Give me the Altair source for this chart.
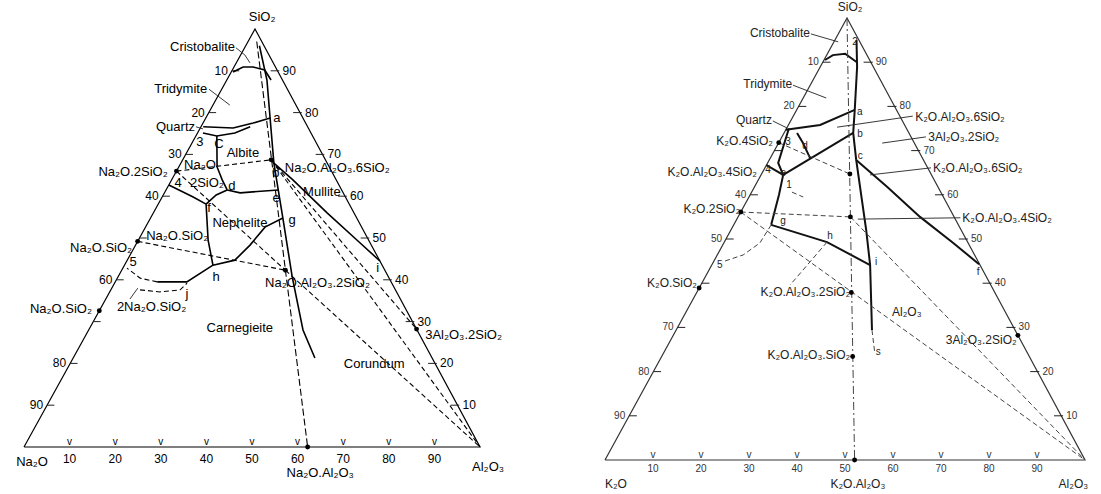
import altair as alt
import pandas as pd

# ---------------------------------------------------------------------------
# DATA  (all positions are compositions in wt%: (SiO2, Al2O3); alkali = rest)
# ---------------------------------------------------------------------------
TICKS = [10, 20, 30, 40, 50, 60, 70, 80, 90]
TRIANGLE = [(0, 0), (0, 100), (100, 0), (0, 0)]

# ---- Na2O - Al2O3 - SiO2 ----
NA_DOT_SIO2 = [66.0, 49.2, 32.6, 68.7, 42.3, 0.0, 28.2]
NA_DOT_AL2O3 = [0.0, 0.0, 0.0, 19.4, 35.9, 62.2, 71.8]
NA_LEFT_LABELS = [10, 20, 30, 40, 60, 80, 90]
NA_RIGHT_LABELS = [90, 80, 70, 60, 50, 40, 30, 20, 10]
NA_BOTTOM_LABELS = [10, 20, 30, 40, 50, 60, 70, 80, 90]

NA_BOUNDARIES = {
    "cristobalite": [(89.7, 0.4), (90.9, 2.0), (90.9, 4.2), (90.2, 7.1), (87.8, 9.7)],
    "main": [(96.0, 3.0), (87.8, 8.8), (78.7, 14.1), (67.9, 20.4), (61.5, 24.6),
             (54.8, 29.0), (40.7, 38.2), (28.0, 47.0), (21.3, 53.0)],
    "quartz_upper": [(76.6, 0.5), (76.3, 7.2), (77.5, 11.0), (78.7, 14.1)],
    "quartz_lower": [(75.1, 1.2), (74.4, 4.6), (75.1, 8.2), (76.6, 10.8)],
    "c_d": [(74.4, 4.6), (67.0, 8.4), (63.9, 11.1), (61.5, 13.4)],
    "d_e": [(61.5, 13.4), (60.8, 16.6), (61.5, 24.6)],
    "4_f": [(62.7, 0.0), (59.8, 6.8), (58.1, 10.5)],
    "f_d": [(58.1, 10.5), (60.3, 11.6), (61.5, 13.4)],
    "f_h": [(58.1, 10.5), (49.5, 15.3), (43.5, 19.4)],
    "h_g": [(43.5, 19.4), (44.7, 23.6), (48.3, 25.1), (52.6, 26.2), (54.8, 29.0)],
    "h_5": [(43.5, 19.4), (39.5, 15.7), (39.5, 9.2)],
    "mullite": [(67.9, 20.4), (63.9, 26.6), (56.0, 38.1), (48.8, 49.0), (44.5, 55.5)],
}
NA_TIELINES = {
    "h_5_dash": [(39.5, 9.2), (40.4, 5.0), (42.8, 0.9)],
    "j": [(37.6, 6.4), (37.1, 11.0), (37.6, 15.2), (39.2, 15.9)],
    "ns2_ab": [(66.0, 0.0), (68.7, 19.4)],
    "ns2_ne": [(66.0, 0.0), (42.3, 35.9)],
    "ns_ne": [(49.2, 0.0), (42.3, 35.9)],
    "ne_a": [(42.3, 35.9), (0.0, 100.0)],
    "ab_a": [(68.7, 19.4), (0.0, 100.0)],
    "ab_mu": [(68.7, 19.4), (28.2, 71.8)],
}
NA_JOIN = [(97.0, 1.9), (0.0, 62.2)]
NA_LEADERS = {
    "cristobalite": [(95.5, -1.9), (93.8, 0.9), (91.9, 3.0)],
    "tridymite": [(85.6, -2.8), (81.8, 3.7)],
    "quartz": [(76.6, -1.1), (76.1, 0.7)],
    "n2s": [(35.4, 5.3), (38.0, 5.7)],
}
NA_TEXT = [
    ("SiO₂", 102.9, 0.1, "center"), ("Cristobalite", 95.7, -2.2, "right"),
    ("Tridymite", 85.6, -3.2, "right"), ("Quartz", 76.6, -1.3, "right"),
    ("3", 73.0, 1.6, "center"), ("C", 72.5, 6.0, "center"), ("Albite", 70.3, 12.4, "center"),
    ("Na₂O.2SiO₂", 65.8, -1.8, "right"), ("Na₂O", 67.5, 4.4, "center"),
    ("2SiO₂", 63.2, 8.1, "center"), ("4", 63.2, 1.8, "center"), ("d", 62.4, 14.0, "center"),
    ("a", 78.7, 15.6, "center"), ("b", 65.6, 22.0, "center"), ("e", 59.6, 25.1, "center"),
    ("g", 54.3, 31.3, "center"), ("f", 57.2, 11.6, "center"), ("h", 40.7, 21.5, "center"),
    ("i", 42.8, 55.9, "center"), ("j", 36.6, 17.2, "center"), ("5", 44.3, 1.5, "center"),
    ("Na₂O.Al₂O₃.6SiO₂", 66.7, 23.4, "left"), ("Mullite", 61.0, 30.3, "left"),
    ("Nephelite", 53.6, 20.2, "center"), ("Na₂O.SiO₂", 47.6, -0.4, "right"),
    ("Na₂O.SiO₂", 50.5, 1.2, "left"), ("Na₂O.SiO₂", 33.0, -1.8, "right"),
    ("2Na₂O.SiO₂", 33.5, 3.4, "left"), ("Carnegieite", 28.5, 32.9, "center"),
    ("Na₂O.Al₂O₃.2SiO₂", 39.2, 33.0, "left"), ("3Al₂O₃.2SiO₂", 26.8, 74.4, "left"),
    ("Corundum", 19.9, 66.7, "center"), ("Na₂O", -3.6, 3.6, "center"),
    ("Na₂O.Al₂O₃", -6.2, 68.1, "center"), ("Al₂O₃", -4.8, 104.2, "center"),
]

# ---- K2O - Al2O3 - SiO2 ----
K_DOT_SIO2 = [71.8, 56.1, 38.9, 64.7, 55.0, 37.9, 23.4, 0.0, 28.2]
K_DOT_AL2O3 = [0.0, 0.0, 0.0, 18.4, 23.4, 32.2, 39.8, 52.0, 71.8]
K_LEFT_LABELS = [10, 20, 40, 50, 70, 80, 90]
K_RIGHT_LABELS = [90, 80, 70, 60, 50, 40, 30, 20, 10]
K_BOTTOM_LABELS = [10, 20, 30, 40, 50, 60, 70, 80, 90]

K_BOUNDARIES = {
    "cristobalite": [(90.5, 0.2), (91.6, 1.3), (91.9, 3.7), (90.0, 7.1)],
    "main": [(95.0, 4.5), (88.9, 7.7), (79.2, 12.1), (74.0, 14.4), (67.9, 18.1),
             (52.0, 28.2), (44.1, 33.0), (29.4, 40.8)],
    "c_f": [(67.9, 18.1), (61.8, 27.6), (55.0, 37.9), (49.1, 47.8), (44.3, 55.6)],
    "quartz": [(74.7, 0.0), (75.8, 6.6), (79.2, 12.1)],
    "e_b": [(64.5, 4.6), (74.0, 14.4)],
    "3_e": [(75.0, 0.5), (67.2, 2.2), (64.5, 4.6)],
    "d": [(74.0, 2.7), (71.7, 5.1), (68.3, 8.3)],
    "4_e": [(66.7, 0.0), (64.5, 4.6)],
    "e_g": [(64.5, 4.6), (60.0, 6.0), (53.2, 7.8)],
    "g_h_i": [(53.2, 7.8), (49.3, 21.4), (44.1, 33.0)],
}
K_TIELINES = {
    "main_tail": [(29.4, 40.8), (24.2, 44.0)],
    "g_5": [(53.2, 7.8), (49.1, 7.5), (46.4, 5.4), (44.8, 1.8)],
    "h_down": [(49.3, 21.4), (39.6, 18.6)],
    "k4s_or": [(71.8, 0.0), (64.7, 18.4)],
    "k2s_lc": [(56.1, 0.0), (55.0, 23.4)],
    "k2s_a": [(56.1, 0.0), (0.0, 100.0)],
    "lc_a": [(55.0, 23.4), (0.0, 100.0)],
    "arrow1": [(60.6, 8.4), (59.5, 11.3)],
}
K_JOIN = [(100.0, 0.0), (0.0, 52.0)]
K_LEADERS = {
    "cristobalite": [(96.4, -5.7), (94.6, 0.9)],
    "tridymite": [(84.8, -3.6), (81.9, 4.8)],
    "quartz": [(76.7, -3.7), (75.1, 0.1)],
    "or_top": [(77.8, 24.9), (75.3, 10.4)],
    "mu_top": [(73.1, 30.0), (71.7, 21.6)],
    "or_2": [(66.1, 34.6), (64.5, 22.7)],
    "lc": [(54.8, 46.4), (54.5, 25.2)],
}
K_TEXT = [
    ("SiO₂", 102.5, -0.6, "center"), ("Cristobalite", 96.6, -6.0, "right"),
    ("Tridymite", 85.1, -3.9, "right"), ("Quartz", 76.9, -4.0, "right"),
    ("K₂O.4SiO₂", 72.2, -1.4, "right"), ("K₂O.Al₂O₃.4SiO₂", 65.2, -1.2, "right"),
    ("K₂O.2SiO₂", 56.8, -0.5, "right"), ("K₂O.SiO₂", 40.0, -1.0, "right"),
    ("K₂O.Al₂O₃.2SiO₂", 38.0, 31.9, "right"), ("K₂O.Al₂O₃.SiO₂", 23.8, 39.1, "right"),
    ("K₂O.Al₂O₃.6SiO₂", 77.6, 25.5, "left"), ("3Al₂O₃.2SiO₂", 73.1, 30.5, "left"),
    ("K₂O.Al₂O₃.6SiO₂", 66.1, 35.0, "left"), ("K₂O.Al₂O₃.4SiO₂", 54.8, 46.8, "left"),
    ("Al₂O₃", 33.5, 42.9, "left"), ("3Al₂O₃.2SiO₂", 27.1, 72.1, "right"),
    ("K₂O", -5.4, 5.0, "center"), ("K₂O.Al₂O₃", -5.4, 55.4, "center"),
    ("Al₂O₃", -5.4, 100.3, "center"),
    ("2", 94.6, 4.4, "center"), ("a", 78.7, 13.4, "center"), ("b", 73.8, 15.9, "center"),
    ("c", 68.8, 18.5, "center"), ("3", 71.9, 1.9, "center"), ("d", 71.0, 5.9, "center"),
    ("4", 65.6, 0.9, "center"), ("e", 64.9, 4.4, "center"), ("1", 62.2, 7.0, "center"),
    ("g", 54.1, 9.8, "center"), ("h", 50.7, 21.3, "center"), ("i", 44.8, 33.9, "center"),
    ("5", 44.1, 1.7, "center"), ("s", 24.4, 44.6, "center"), ("f", 42.5, 56.3, "center"),
]

# ---------------------------------------------------------------------------
# LAYOUT: pixel frame of each triangle (x of alkali corner, baseline y,
# base width, horizontal offset of apex, height)
# ---------------------------------------------------------------------------
FRAMES = {"Na": (24.0, 447.0, 456.0, 231.0, 418.0),
          "K": (605.0, 460.0, 480.0, 242.0, 442.0)}


def to_px(diagram, si, al):
    x0, y0, w, dx, h = FRAMES[diagram]
    s, a = si / 100.0, al / 100.0
    return x0 + dx * s + w * a, y0 - h * s


line_rows = []


def add_line(diagram, name, style, pts):
    for i, (si, al) in enumerate(pts):
        x, y = to_px(diagram, si, al)
        line_rows.append(dict(id=f"{diagram}-{name}", order=i, x=x, y=y, style=style))


for d, sfx in (("Na", "na"), ("K", "k")):
    add_line(d, "edge", "edge_" + sfx, TRIANGLE)
    for v in TICKS:
        add_line(d, f"tl{v}", "tick", [(100 - v, 0.0), (100 - v, 1.6)])
        add_line(d, f"tr{v}", "tick", [(v, 100 - v - 1.5), (v, 100 - v + 0.4)])

for name, pts in NA_BOUNDARIES.items():
    add_line("Na", name, "bound_na", pts)
for name, pts in NA_TIELINES.items():
    add_line("Na", name, "tie_na", pts)
add_line("Na", "join", "join_na", NA_JOIN)
for name, pts in NA_LEADERS.items():
    add_line("Na", "ld" + name, "leader", pts)

for name, pts in K_BOUNDARIES.items():
    add_line("K", name, "bound_k", pts)
for name, pts in K_TIELINES.items():
    add_line("K", name, "tie_k", pts)
add_line("K", "join", "join_k", K_JOIN)
for name, pts in K_LEADERS.items():
    add_line("K", "ld" + name, "leader", pts)

lines_df = pd.DataFrame(line_rows)

# dots
dot_rows = []
for si, al in zip(NA_DOT_SIO2, NA_DOT_AL2O3):
    x, y = to_px("Na", si, al)
    dot_rows.append(dict(x=x, y=y))
for si, al in zip(K_DOT_SIO2, K_DOT_AL2O3):
    x, y = to_px("K", si, al)
    dot_rows.append(dict(x=x, y=y))
dots_df = pd.DataFrame(dot_rows)

# text
text_rows = []
for t, si, al, al_ in NA_TEXT:
    x, y = to_px("Na", si, al)
    text_rows.append(dict(text=t, x=x, y=y, align=al_, size=13, color="#000000"))
for t, si, al, al_ in K_TEXT:
    x, y = to_px("K", si, al)
    size = 12 if len(t) > 2 else 10
    text_rows.append(dict(text=t, x=x, y=y, align=al_, size=size, color="#222222"))
text_df = pd.DataFrame(text_rows)

# tick labels
tick_rows = []
for d, lefts, rights, bottoms, size, col in (
        ("Na", NA_LEFT_LABELS, NA_RIGHT_LABELS, NA_BOTTOM_LABELS, 12, "#000000"),
        ("K", K_LEFT_LABELS, K_RIGHT_LABELS, K_BOTTOM_LABELS, 10, "#333333")):
    for v in lefts:
        x, y = to_px(d, 100 - v, 0)
        tick_rows.append(dict(text=str(v), x=x, y=y, kind="left", size=size, color=col))
    for v in rights:
        x, y = to_px(d, v, 100 - v)
        tick_rows.append(dict(text=str(v), x=x, y=y, kind="right", size=size, color=col))
    for v in bottoms:
        x, y = to_px(d, 0, v)
        tick_rows.append(dict(text=str(v), x=x, y=y, kind="bottom_" + d, size=size, color=col))
    for v in TICKS:
        x, y = to_px(d, 0, v)
        tick_rows.append(dict(text="v", x=x, y=y, kind="vmark", size=10, color=col))
tick_df = pd.DataFrame(tick_rows)

# ---------------------------------------------------------------------------
# CHART
# ---------------------------------------------------------------------------
FONT = "Liberation Sans"
X = alt.X("x:Q", scale=alt.Scale(domain=[0, 1101], nice=False, zero=False), axis=None)
Y = alt.Y("y:Q", scale=alt.Scale(domain=[0, 494], nice=False, zero=False, reverse=True), axis=None)

STYLES = {
    "edge_na": dict(strokeWidth=1.2, color="#000000"),
    "edge_k": dict(strokeWidth=1.2, color="#333333"),
    "tick": dict(strokeWidth=1.0, color="#222222"),
    "bound_na": dict(strokeWidth=1.6, color="#000000"),
    "bound_k": dict(strokeWidth=2.0, color="#111111"),
    "tie_na": dict(strokeWidth=1.1, color="#000000", strokeDash=[5, 3]),
    "tie_k": dict(strokeWidth=1.0, color="#444444", strokeDash=[5, 3]),
    "join_na": dict(strokeWidth=1.1, color="#000000", strokeDash=[7, 3]),
    "join_k": dict(strokeWidth=1.0, color="#444444", strokeDash=[8, 3, 2, 3]),
    "leader": dict(strokeWidth=0.9, color="#222222"),
}

layers = []
for st, props in STYLES.items():
    layers.append(
        alt.Chart(lines_df).transform_filter(alt.datum.style == st)
        .mark_line(clip=False, **props)
        .encode(X, Y, detail="id:N", order="order:Q")
    )

layers.append(alt.Chart(dots_df).mark_circle(size=24, color="#000000", opacity=1).encode(X, Y))

for al_ in ("left", "center", "right"):
    layers.append(
        alt.Chart(text_df).transform_filter(alt.datum.align == al_)
        .mark_text(align=al_, baseline="middle", font=FONT)
        .encode(X, Y, text="text:N", size=alt.Size("size:Q", scale=None),
                color=alt.Color("color:N", scale=None))
    )

for kind, kw in (("left", dict(align="right", dx=-4)),
                 ("right", dict(align="left", dx=5)),
                 ("bottom_Na", dict(align="center", dy=12)),
                 ("bottom_K", dict(align="center", dy=9)),
                 ("vmark", dict(align="center", dy=-5))):
    layers.append(
        alt.Chart(tick_df).transform_filter(alt.datum.kind == kind)
        .mark_text(baseline="middle", font=FONT, **kw)
        .encode(X, Y, text="text:N", size=alt.Size("size:Q", scale=None),
                color=alt.Color("color:N", scale=None))
    )

chart = alt.layer(*layers).properties(
    width=1101, height=494, padding=0,
    autosize=alt.AutoSizeParams(type="none"),
    background="white",
).configure_view(stroke=None)

chart.save("out.html", embed_options={"renderer": "svg", "actions": False})
